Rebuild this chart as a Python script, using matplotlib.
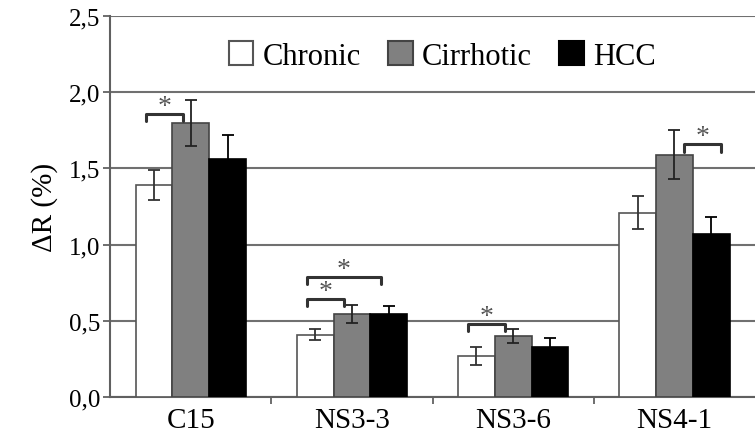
import numpy as np
import matplotlib.pyplot as plt
from matplotlib.patches import Patch

plt.rcParams['font.family'] = ['Liberation Serif', 'DejaVu Serif']

categories = ['C15', 'NS3-3', 'NS3-6', 'NS4-1']
groups = ['Chronic', 'Cirrhotic', 'HCC']
chronic = [1.39, 0.41, 0.27, 1.21]
cirrhotic = [1.80, 0.545, 0.40, 1.59]
hcc = [1.56, 0.545, 0.33, 1.07]
chronic_err = [0.10, 0.035, 0.06, 0.11]
cirrhotic_err = [0.15, 0.06, 0.045, 0.16]
hcc_err = [0.16, 0.05, 0.06, 0.11]

# significance brackets: (category, bar i, bar j, height)
brackets = [(0, 0, 1, 1.86), (1, 0, 1, 0.645), (1, 0, 2, 0.79),
            (2, 0, 1, 0.48), (3, 1, 2, 1.66)]

colors = ['white', '#808080', 'black']
edges = ['#555555', '#444444', 'black']
err_colors = ['#333333', '#222222', 'black']

fig = plt.figure(figsize=(7.55, 4.35), dpi=100)
ax = fig.add_axes([0.146, 0.085, 0.854, 0.876])

x = np.arange(len(categories))
w = 0.228
vals = [chronic, cirrhotic, hcc]
errs = [chronic_err, cirrhotic_err, hcc_err]
for k in range(3):
    pos = x + (k - 1) * w
    ax.bar(pos, vals[k], w, color=colors[k], edgecolor=edges[k], linewidth=1.2, zorder=3)
    ax.errorbar(pos, vals[k], yerr=errs[k], fmt='none', ecolor=err_colors[k],
                elinewidth=1.3, capsize=4, capthick=1.3, zorder=4)

for c, i, j, h in brackets:
    x1 = c + (i - 1) * w - 0.05
    x2 = c + (j - 1) * w - 0.05
    if (c, i, j) == (3, 1, 2):
        x1 = c + 0.06
        x2 = c + w + 0.06
    ax.plot([x1, x1, x2, x2], [h - 0.05, h, h, h - 0.05], color='#333333', lw=2.2, zorder=5,
            solid_capstyle='round', solid_joinstyle='round')
    ax.text((x1 + x2) / 2, h - 0.035, '*', ha='center', va='bottom', fontsize=20,
            color='#555555', zorder=5)

ax.set_xlim(-0.5, 3.5)
ax.set_ylim(0, 2.5)
ax.set_yticks(np.arange(0, 2.51, 0.5))
ax.yaxis.set_major_formatter(plt.FuncFormatter(lambda v, p: ('%.1f' % v).replace('.', ',')))
ax.grid(axis='y', color='#707070', lw=1.5, zorder=0)
ax.set_xticks(x)
ax.set_xticklabels(categories, fontsize=21)
ax.tick_params(axis='x', length=0, pad=7)
ax.set_xticks([0.5, 1.5, 2.5], minor=True)
ax.tick_params(axis='x', which='minor', length=5, width=1.2, color='#555555')
ax.tick_params(axis='y', length=5, width=1.2, color='#555555', labelsize=18, pad=2)
for s in ['top', 'right']:
    ax.spines[s].set_visible(False)
ax.spines['left'].set_color('#606060')
ax.spines['left'].set_linewidth(1.5)
ax.spines['bottom'].set_color('#606060')
ax.spines['bottom'].set_linewidth(1.5)

ax.set_ylabel('ΔR (%)', fontsize=21, labelpad=8)

handles = [Patch(facecolor=colors[k], edgecolor=edges[k], linewidth=1.5) for k in range(3)]
ax.legend(handles, groups, loc='center', bbox_to_anchor=(0.515, 0.895), ncol=3,
          frameon=False, fontsize=22, handlelength=0.8, handleheight=0.8,
          handletextpad=0.3, columnspacing=0.9, borderaxespad=0)

fig.savefig('out.png', dpi=100)
